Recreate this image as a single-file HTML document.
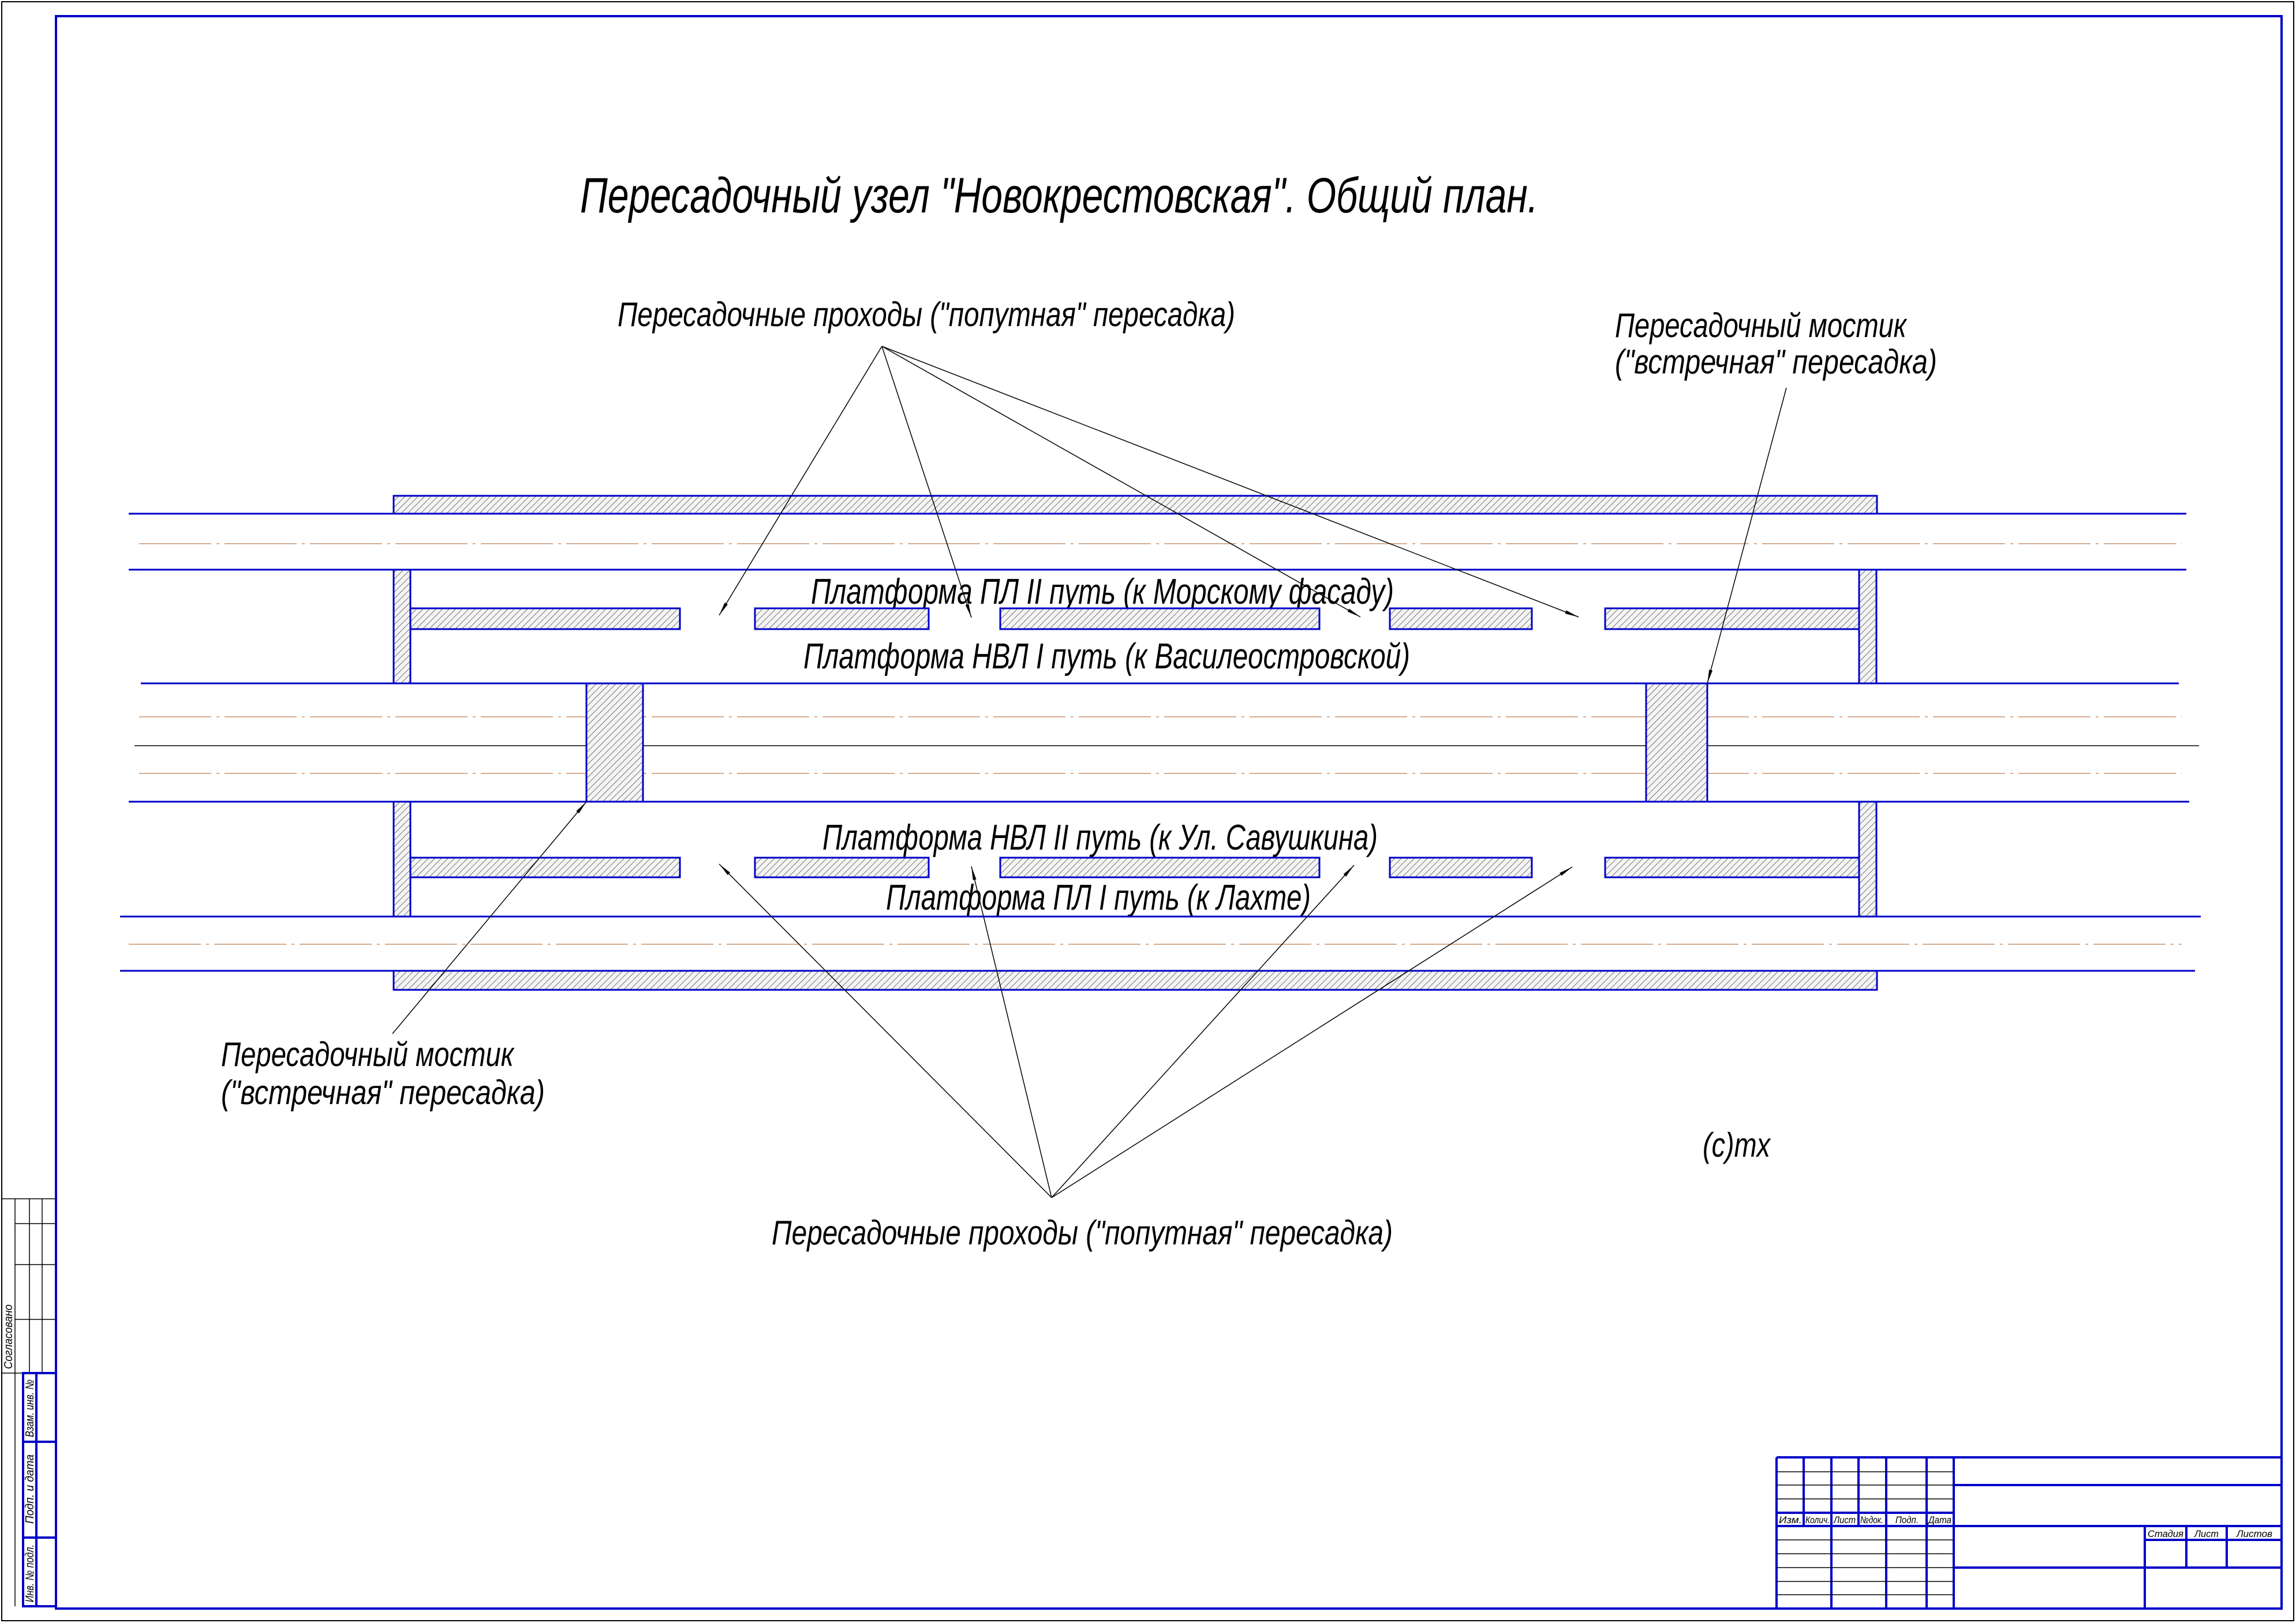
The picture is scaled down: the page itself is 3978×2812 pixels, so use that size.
<!DOCTYPE html>
<html><head><meta charset="utf-8"><style>html,body{margin:0;padding:0;background:#fff}svg{display:block}</style></head><body>
<svg xmlns="http://www.w3.org/2000/svg" width="3978" height="2812" viewBox="0 0 3978 2812">
<defs>
<pattern id="h" patternUnits="userSpaceOnUse" width="8" height="8" patternTransform="rotate(45)">
<rect width="8" height="8" fill="#f4f4f4"/><line x1="0" y1="0" x2="0" y2="8" stroke="#333" stroke-width="1.3"/>
</pattern>
<marker id="a" markerWidth="24" markerHeight="8" refX="24" refY="4" orient="auto" markerUnits="userSpaceOnUse">
<path d="M0,1 L24,4 L0,7 Z" fill="#000"/>
</marker>
</defs>
<g fill="none">
<rect x="3" y="3" width="3971" height="2805" stroke="#000" stroke-width="2"/>
<rect x="97" y="28" width="3856" height="2759" stroke="#0000c8" stroke-width="4"/>
</g>
<g font-family="Liberation Sans, sans-serif" font-style="italic" fill="#000">
<text x="1005" y="368" font-size="86" textLength="1660" lengthAdjust="spacingAndGlyphs">Пересадочный узел "Новокрестовская". Общий план.</text>
<text x="1070" y="565" font-size="59" textLength="1070" lengthAdjust="spacingAndGlyphs">Пересадочные проходы ("попутная" пересадка)</text>
<text x="2798" y="584" font-size="59" textLength="505" lengthAdjust="spacingAndGlyphs">Пересадочный мостик</text>
<text x="2798" y="647" font-size="59" textLength="558" lengthAdjust="spacingAndGlyphs">("встречная" пересадка)</text>
<text x="1405" y="1046" font-size="62" textLength="1010" lengthAdjust="spacingAndGlyphs">Платформа ПЛ II путь (к Морскому фасаду)</text>
<text x="1392" y="1158" font-size="62" textLength="1051" lengthAdjust="spacingAndGlyphs">Платформа НВЛ I путь (к Василеостровской)</text>
<text x="1425" y="1472" font-size="62" textLength="962" lengthAdjust="spacingAndGlyphs">Платформа НВЛ II путь (к Ул. Савушкина)</text>
<text x="1535" y="1576" font-size="62" textLength="736" lengthAdjust="spacingAndGlyphs">Платформа ПЛ I путь (к Лахте)</text>
<text x="383" y="1847" font-size="59" textLength="507" lengthAdjust="spacingAndGlyphs">Пересадочный мостик</text>
<text x="383" y="1913" font-size="59" textLength="561" lengthAdjust="spacingAndGlyphs">("встречная" пересадка)</text>
<text x="2950" y="2004" font-size="59" textLength="117" lengthAdjust="spacingAndGlyphs">(c)mx</text>
<text x="1337" y="2156" font-size="59" textLength="1076" lengthAdjust="spacingAndGlyphs">Пересадочные проходы ("попутная" пересадка)</text>
</g>
<g stroke="#c8906a" stroke-width="1.6" stroke-dasharray="125 9 5 9">
<line x1="241" y1="942" x2="3780" y2="942"/>
<line x1="241" y1="1242" x2="3780" y2="1242"/>
<line x1="241" y1="1340" x2="3780" y2="1340"/>
<line x1="223" y1="1636" x2="3780" y2="1636"/>
</g>
<line x1="233" y1="1292" x2="3810" y2="1292" stroke="#000" stroke-width="1.5"/>
<g fill="url(#h)" stroke="#0000c8" stroke-width="3">
<rect x="682" y="859" width="2570" height="31"/>
<rect x="682" y="1682" width="2570" height="33"/>
<rect x="682" y="987" width="29" height="197"/>
<rect x="3221" y="987" width="30" height="197"/>
<rect x="682" y="1389" width="29" height="199"/>
<rect x="3221" y="1389" width="30" height="199"/>
<rect x="1016" y="1184" width="98" height="205"/>
<rect x="2852" y="1184" width="106" height="205"/>
<rect x="711" y="1054" width="467" height="36"/>
<rect x="1308" y="1054" width="301" height="36"/>
<rect x="1733" y="1054" width="553" height="36"/>
<rect x="2408" y="1054" width="246" height="36"/>
<rect x="2781" y="1054" width="440" height="36"/>
<rect x="711" y="1486" width="467" height="34"/>
<rect x="1308" y="1486" width="301" height="34"/>
<rect x="1733" y="1486" width="553" height="34"/>
<rect x="2408" y="1486" width="246" height="34"/>
<rect x="2781" y="1486" width="440" height="34"/>
</g>
<g stroke="#0000c8" stroke-width="3">
<line x1="223" y1="890" x2="3788" y2="890"/>
<line x1="223" y1="987" x2="3788" y2="987"/>
<line x1="244" y1="1184" x2="3775" y2="1184"/>
<line x1="223" y1="1389" x2="3793" y2="1389"/>
<line x1="208" y1="1588" x2="3813" y2="1588"/>
<line x1="208" y1="1682" x2="3803" y2="1682"/>
</g>
<g stroke="#000" stroke-width="1.5" marker-end="url(#a)">
<line x1="1528" y1="600" x2="1246" y2="1066"/>
<line x1="1528" y1="600" x2="1683" y2="1070"/>
<line x1="1528" y1="600" x2="2357" y2="1069"/>
<line x1="1528" y1="600" x2="2735" y2="1069"/>
<line x1="1822" y1="2075" x2="1246" y2="1497"/>
<line x1="1822" y1="2075" x2="1683" y2="1501"/>
<line x1="1822" y1="2075" x2="2346" y2="1499"/>
<line x1="1822" y1="2075" x2="2724" y2="1502"/>
<line x1="680" y1="1791" x2="1016" y2="1389"/>
<line x1="3095" y1="672" x2="2958" y2="1184"/>
</g>
<g stroke="#0000c8" stroke-width="4" fill="none">
<line x1="3078" y1="2525" x2="3953" y2="2525"/>
<line x1="3078" y1="2525" x2="3078" y2="2787"/>
<line x1="3385" y1="2525" x2="3385" y2="2787"/>
<line x1="3385" y1="2573" x2="3953" y2="2573"/>
<line x1="3078" y1="2621" x2="3385" y2="2621"/>
<line x1="3078" y1="2644" x2="3953" y2="2644"/>
<line x1="3385" y1="2716" x2="3953" y2="2716"/>
<line x1="3716" y1="2644" x2="3716" y2="2787"/>
<line x1="3788" y1="2644" x2="3788" y2="2716"/>
<line x1="3858" y1="2644" x2="3858" y2="2716"/>
<line x1="3716" y1="2668" x2="3953" y2="2668"/>
<line x1="3125" y1="2525" x2="3125" y2="2644"/>
<line x1="3220" y1="2525" x2="3220" y2="2644"/>
<line x1="3173" y1="2525" x2="3173" y2="2787"/>
<line x1="3268" y1="2525" x2="3268" y2="2787"/>
<line x1="3338" y1="2525" x2="3338" y2="2787"/>
</g>
<g stroke="#000" stroke-width="1.5">
<line x1="3078" y1="2550" x2="3385" y2="2550"/>
<line x1="3078" y1="2573" x2="3385" y2="2573"/>
<line x1="3078" y1="2597" x2="3385" y2="2597"/>
<line x1="3078" y1="2668" x2="3385" y2="2668"/>
<line x1="3078" y1="2692" x2="3385" y2="2692"/>
<line x1="3078" y1="2716" x2="3385" y2="2716"/>
<line x1="3078" y1="2740" x2="3385" y2="2740"/>
<line x1="3078" y1="2763" x2="3385" y2="2763"/>
</g>
<g font-family="Liberation Sans, sans-serif" font-style="italic" font-size="17" fill="#000">
<text x="3082" y="2639" textLength="40" lengthAdjust="spacingAndGlyphs">Изм.</text>
<text x="3128" y="2639" textLength="42" lengthAdjust="spacingAndGlyphs">Колич.</text>
<text x="3177" y="2639" textLength="38" lengthAdjust="spacingAndGlyphs">Лист</text>
<text x="3223" y="2639" textLength="40" lengthAdjust="spacingAndGlyphs">№док.</text>
<text x="3284" y="2639" textLength="40" lengthAdjust="spacingAndGlyphs">Подп.</text>
<text x="3341" y="2639" textLength="40" lengthAdjust="spacingAndGlyphs">Дата</text>
<text x="3721" y="2663" textLength="62" lengthAdjust="spacingAndGlyphs">Стадия</text>
<text x="3802" y="2663" textLength="42" lengthAdjust="spacingAndGlyphs">Лист</text>
<text x="3875" y="2663" textLength="62" lengthAdjust="spacingAndGlyphs">Листов</text>
</g>
<g stroke="#000" stroke-width="1.5" fill="none">
<line x1="3" y1="2077" x2="97" y2="2077"/>
<line x1="26" y1="2077" x2="26" y2="2783"/>
<line x1="51" y1="2077" x2="51" y2="2379"/>
<line x1="73" y1="2077" x2="73" y2="2379"/>
<line x1="26" y1="2120" x2="97" y2="2120"/>
<line x1="26" y1="2191" x2="97" y2="2191"/>
<line x1="26" y1="2286" x2="97" y2="2286"/>
<line x1="3" y1="2379" x2="40" y2="2379"/>
</g>
<g stroke="#0000c8" stroke-width="4" fill="none">
<rect x="40" y="2379" width="57" height="404"/>
<line x1="63" y1="2379" x2="63" y2="2783"/>
<line x1="40" y1="2498" x2="97" y2="2498"/>
<line x1="40" y1="2664" x2="97" y2="2664"/>
</g>
<g font-family="Liberation Sans, sans-serif" font-style="italic" font-size="20" fill="#000">
<text transform="translate(21,2372) rotate(-90)" textLength="112" lengthAdjust="spacingAndGlyphs">Согласовано</text>
<text transform="translate(58,2490) rotate(-90)" textLength="100" lengthAdjust="spacingAndGlyphs">Взам. инв. №</text>
<text transform="translate(58,2640) rotate(-90)" textLength="120" lengthAdjust="spacingAndGlyphs">Подп. и дата</text>
<text transform="translate(58,2776) rotate(-90)" textLength="100" lengthAdjust="spacingAndGlyphs">Инв. № подл.</text>
</g>
</svg>
</body></html>
